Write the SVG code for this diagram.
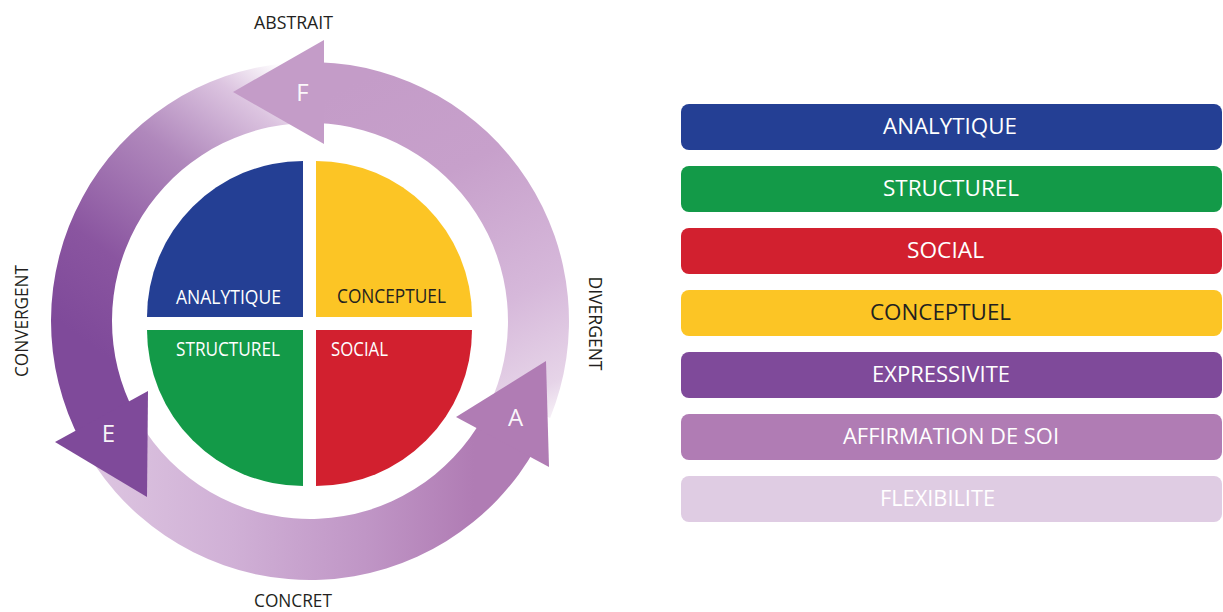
<svg xmlns="http://www.w3.org/2000/svg" width="1223" height="612" viewBox="0 0 1223 612">
<style>
.lbl{font-family:"Open Sans","Liberation Sans",sans-serif;font-size:19px;fill:#231f20;text-anchor:middle}
.q{font-family:"Open Sans","Liberation Sans",sans-serif;font-size:20px;text-anchor:middle}
.bar{font-family:"Open Sans","Liberation Sans",sans-serif;font-size:22px;text-anchor:middle;fill:#ffffff}
.let{font-family:"Open Sans","Liberation Sans",sans-serif;font-size:24px;text-anchor:middle;fill:#ffffff;fill-opacity:0.95}
</style>
<defs>
<linearGradient id="gF" gradientUnits="userSpaceOnUse" x1="562" y1="432" x2="380" y2="70">
<stop offset="0" stop-color="#ffffff"/>
<stop offset="0.12" stop-color="#e6d4e8"/>
<stop offset="0.35" stop-color="#d6b8da"/>
<stop offset="0.7" stop-color="#c7a0cb"/>
<stop offset="1" stop-color="#c49cc8"/>
</linearGradient>
<linearGradient id="gE" gradientUnits="userSpaceOnUse" x1="272" y1="58" x2="70" y2="330">
<stop offset="0" stop-color="#ffffff"/>
<stop offset="0.15" stop-color="#dcc4e0"/>
<stop offset="0.4" stop-color="#b088bc"/>
<stop offset="0.75" stop-color="#8a55a0"/>
<stop offset="1" stop-color="#7f4a9a"/>
</linearGradient>
<linearGradient id="gA" gradientUnits="userSpaceOnUse" x1="100" y1="0" x2="540" y2="0">
<stop offset="0" stop-color="#dcc4e0"/>
<stop offset="0.3" stop-color="#d0b0d6"/>
<stop offset="0.6" stop-color="#c096c6"/>
<stop offset="0.85" stop-color="#b07cb4"/>
<stop offset="1" stop-color="#b07cb4"/>
</linearGradient>
</defs>

<g id="connectors">
<path id="shaft-F" d="M 550.14 418.02 A 259 259 0 0 0 319.04 62.16 L 316.91 123.12 A 198 198 0 0 1 493.58 395.17 Z" fill="url(#gF)"/>
<path id="shaft-E" d="M 287.43 62.99 A 259 259 0 0 0 81.32 442.59 L 135.18 413.96 A 198 198 0 0 1 292.74 123.75 Z" fill="url(#gE)"/>
<path id="shaft-A" d="M 95.28 465.83 A 259 259 0 0 0 536.53 446.57 L 483.17 416.99 A 198 198 0 0 1 145.85 431.72 Z" fill="url(#gA)"/>
<polygon id="head-F" points="233,92 324,40 324,144" fill="#c49cc8"/>
<polygon id="head-E" points="55,442 148,391 147,497" fill="#7f4a9a"/>
<polygon id="head-A" points="456,417 549,467 546,361" fill="#b07cb4"/>
<text class="let" x="302.5" y="101">F</text>
<text class="let" x="108.5" y="442">E</text>
<text class="let" x="515.5" y="426">A</text>
</g>

<g id="q-analytique">
<path d="M303 317 L147 317 A156 156 0 0 1 303 161 Z" fill="#243f94"/>
<text class="q" x="228.5" y="304" fill="#ffffff" textLength="105" lengthAdjust="spacingAndGlyphs">ANALYTIQUE</text>
</g>
<g id="q-conceptuel">
<path d="M316 317 L316 161 A156 156 0 0 1 472 317 Z" fill="#fcc525"/>
<text class="q" x="391.5" y="303" fill="#231f20" textLength="109" lengthAdjust="spacingAndGlyphs">CONCEPTUEL</text>
</g>
<g id="q-structurel">
<path d="M303 330 L303 486 A156 156 0 0 1 147 330 Z" fill="#139a48"/>
<text class="q" x="228" y="356" fill="#ffffff" textLength="104" lengthAdjust="spacingAndGlyphs">STRUCTUREL</text>
</g>
<g id="q-social">
<path d="M316 330 L472 330 A156 156 0 0 1 316 486 Z" fill="#d2202f"/>
<text class="q" x="359.5" y="356" fill="#ffffff" textLength="57" lengthAdjust="spacingAndGlyphs">SOCIAL</text>
</g>

<g id="axis-labels">
<text class="lbl" x="293.5" y="29" textLength="79" lengthAdjust="spacingAndGlyphs">ABSTRAIT</text>
<text class="lbl" x="293" y="607" textLength="78" lengthAdjust="spacingAndGlyphs">CONCRET</text>
<text class="lbl" transform="translate(28,321) rotate(-90)" x="0" y="0" textLength="112" lengthAdjust="spacingAndGlyphs">CONVERGENT</text>
<text class="lbl" transform="translate(589,323.5) rotate(90)" x="0" y="0" textLength="94" lengthAdjust="spacingAndGlyphs">DIVERGENT</text>
</g>

<g id="legend-analytique"><rect x="681" y="104" width="541" height="46" rx="8" fill="#243f94"/><text class="bar" x="950" y="134" textLength="134" lengthAdjust="spacingAndGlyphs">ANALYTIQUE</text></g>
<g id="legend-structurel"><rect x="681" y="166" width="541" height="46" rx="8" fill="#139a48"/><text class="bar" x="951" y="196" textLength="136" lengthAdjust="spacingAndGlyphs">STRUCTUREL</text></g>
<g id="legend-social"><rect x="681" y="228" width="541" height="46" rx="8" fill="#d2202f"/><text class="bar" x="945.5" y="258" textLength="77" lengthAdjust="spacingAndGlyphs">SOCIAL</text></g>
<g id="legend-conceptuel"><rect x="681" y="290" width="541" height="46" rx="8" fill="#fcc525"/><text class="bar" x="940.5" y="320" style="fill:#231f20" textLength="141" lengthAdjust="spacingAndGlyphs">CONCEPTUEL</text></g>
<g id="legend-expressivite"><rect x="681" y="352" width="541" height="46" rx="8" fill="#7f4a9a"/><text class="bar" x="941" y="382" textLength="138" lengthAdjust="spacingAndGlyphs">EXPRESSIVITE</text></g>
<g id="legend-affirmation"><rect x="681" y="414" width="541" height="46" rx="8" fill="#b07cb4"/><text class="bar" x="951" y="444" textLength="216" lengthAdjust="spacingAndGlyphs">AFFIRMATION DE SOI</text></g>
<g id="legend-flexibilite"><rect x="681" y="476" width="541" height="46" rx="8" fill="#dfcce3"/><text class="bar" x="937.5" y="506" textLength="115" lengthAdjust="spacingAndGlyphs">FLEXIBILITE</text></g>
</svg>
